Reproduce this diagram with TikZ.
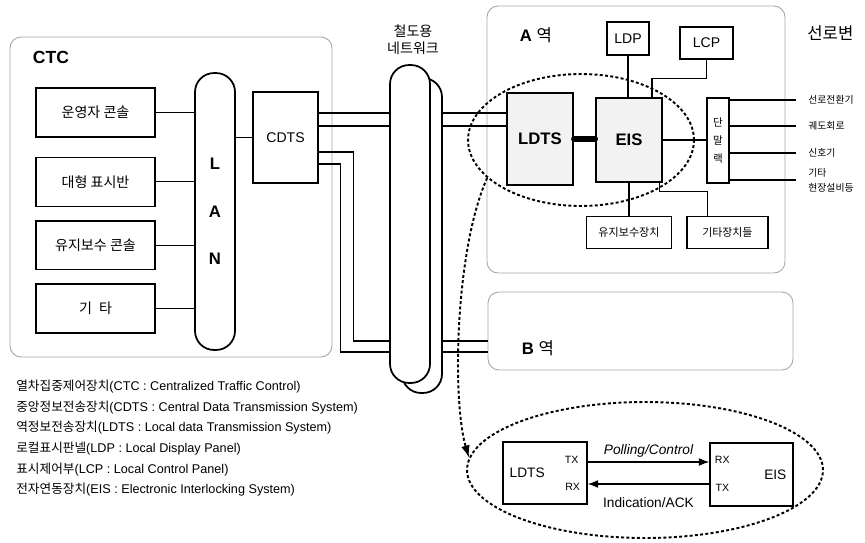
\documentclass[tikz,border=0pt]{standalone}
\usepackage{fontspec}
\setmainfont{Liberation Sans}
\newfontfamily\hangul{Noto Sans CJK KR}
\newcommand\ko[1]{{\hangul #1}}
\usetikzlibrary{calc,positioning,shapes.geometric,arrows.meta}

\begin{document}
\begin{tikzpicture}[
        x=0.02cm, y=-0.02cm,
        zone/.style={rectangle, draw=gray!70, line width=0.5pt, rounded corners=0.22cm, inner sep=0pt},
        box/.style={rectangle, draw, line width=0.8pt, fill=white, inner sep=0pt, align=center, font=\hangul\fontsize{8}{10}\selectfont},
        pill/.style={rectangle, draw, line width=1pt, fill=white, rounded corners=0.38cm, inner sep=0pt, minimum width=0.8cm},
        wire/.style={line width=0.6pt},
        arrow/.style={line width=0.6pt, -{Latex[length=6pt, width=4.5pt]}},
        ring/.style={ellipse, draw, line width=1.1pt, dash pattern=on 1.7pt off 1.3pt, inner sep=0pt},
        port/.style={inner sep=0pt, font=\fontsize{6}{7}\selectfont},
        sig/.style={anchor=west, inner xsep=7pt, inner ysep=0pt, align=left, font=\hangul\fontsize{5.6}{8.5}\selectfont}
    ]
        \useasboundingbox (0,0) rectangle (865,542);

        % Zones
        \node (ctczone) [zone, minimum width=6.44cm, minimum height=6.4cm] at (171,197) {};
        \node (azone) [zone, minimum width=5.96cm, minimum height=5.34cm] at (636,139.5) {};
        \node (bzone) [zone, minimum width=6.1cm, minimum height=1.56cm] at (640.5,331) {};
        \node (ctclabel) [font=\bfseries\fontsize{10}{12}\selectfont] at (51,57) {CTC};
        \node (alabel) [font=\fontsize{9.5}{11}\selectfont] at (536,35) {\textbf{A} \ko{역}};
        \node (blabel) [font=\fontsize{9.5}{11}\selectfont] at (538,348) {\textbf{B} \ko{역}};

        % CTC side
        \node (oper) [box, minimum width=2.38cm, minimum height=0.98cm] at (95.5,112.5) {운영자 콘솔};
        \node (board) [box, minimum width=2.38cm, minimum height=0.98cm, below=0.38cm of oper] {대형 표시반};
        \node (mcons) [box, minimum width=2.38cm, minimum height=0.98cm, below=0.26cm of board] {유지보수 콘솔};
        \node (other) [box, minimum width=2.38cm, minimum height=0.98cm, below=0.26cm of mcons] {기\enspace 타};
        \node (lan) [pill, minimum height=5.54cm, align=center, font=\bfseries\fontsize{9.5}{27}\selectfont] at (215,211.5) {L\\A\\N};
        \node (cdts) [box, minimum width=1.3cm, minimum height=1.82cm, font=\fontsize{8}{10}\selectfont] at (285.5,137.5) {CDTS};

        \foreach \b in {oper,board,mcons,other}
            \draw [wire] (\b.east) -- (\b.east -| lan.west);
        \draw [wire] (cdts.west -| lan.east) -- (cdts.west);

        % Railway network
        \node (netb) [pill, minimum height=6.3cm] at (422,235.5) {};
        \node (netf) [pill, minimum height=6.36cm] at (410,224) {};
        \node (netlabel) [align=center, font=\hangul\fontsize{8}{9.6}\selectfont] at (413,40) {철도용\\네트워크};

        % A station
        \node (ldts) [box, fill=gray!10, minimum width=1.32cm, minimum height=1.84cm, font=\bfseries\fontsize{9.5}{11}\selectfont] at (540,139) {LDTS};
        \node (eis) [box, fill=gray!10, minimum width=1.32cm, minimum height=1.68cm, font=\bfseries\fontsize{9.5}{11}\selectfont] at (629,140) {EIS};
        \node (ldp) [box, minimum width=0.84cm, minimum height=0.66cm, font=\fontsize{8}{10}\selectfont] at (628,38.5) {LDP};
        \node (lcp) [box, minimum width=1.06cm, minimum height=0.64cm, font=\fontsize{8}{10}\selectfont] at (706.5,43) {LCP};
        \node (rack) [box, minimum width=0.44cm, minimum height=1.7cm, font=\hangul\fontsize{6}{10.5}\selectfont] at (718,140.5) {단\\말\\랙};
        \node (maint) [box, minimum width=1.7cm, minimum height=0.64cm, font=\hangul\fontsize{6.3}{8}\selectfont, below=0.66cm of eis] {유지보수장치};
        \node (devs) [box, minimum width=1.62cm, minimum height=0.64cm, font=\hangul\fontsize{6.2}{8}\selectfont, right=0.28cm of maint] {기타장치들};
        \node (linelabel) [anchor=west, inner sep=0pt, font=\hangul\fontsize{9.5}{11}\selectfont] at (807,33) {선로변};

        % Network links
        \coordinate (u1) at ($(cdts.east)+(0,-24.5)$);
        \coordinate (u2) at ($(cdts.east)+(0,-11.5)$);
        \coordinate (d1) at ($(cdts.east)+(0,14.5)$);
        \coordinate (d2) at ($(cdts.east)+(0,26.5)$);
        \coordinate (b1) at ($(bzone.west)+(0,10)$);
        \coordinate (b2) at ($(bzone.west)+(0,21)$);
        \draw [wire] (u1) -- (u1 -| netf.west);
        \draw [wire] (u2) -- (u2 -| netf.west);
        \draw [wire] (u1 -| netb.east) -- (u1 -| ldts.west);
        \draw [wire] (u2 -| netb.east) -- (u2 -| ldts.west);
        \draw [wire] (d1) -- ++(35,0) |- (b1 -| netf.west);
        \draw [wire] (d2) -- ++(22,0) |- (b2 -| netf.west);
        \draw [wire] (b1 -| netb.east) -- (b1);
        \draw [wire] (b2 -| netb.east) -- (b2);

        % Station links
        \draw [line width=3pt, line cap=round] (ldts.east) -- (ldts.east -| eis.west);
        \draw [wire] (ldp.south) -- (ldp.south |- eis.north);
        \draw [wire] (lcp.south) -- ++(0,19) -| ($(eis.north)+(23,0)$);
        \draw [wire] (eis.east) -- (eis.east -| rack.west);
        \draw [wire] (maint.north |- eis.south) -- (maint.north);
        \draw [wire] ($(eis.south east)+(-3,0)$) -- ++(0,9) -| ($(devs.north)+(-20,0)$);

        \foreach \n/\dy/\t in {1/-40.5/선로전환기, 2/-14.5/궤도회로, 3/12.5/신호기, 4/39.5/{기타\\현장설비등}} {
            \coordinate (r\n) at ($(rack.east)+(0,\dy)$);
            \node (sig\n) [sig] at ($(r\n)+(66,0)$) {\t};
            \draw [wire] (r\n) -- (sig\n.west);
        }

        % Detail of LDTS - EIS
        \node (ringa) [ring, minimum width=4.52cm, minimum height=2.64cm] at (581,140) {};
        \node (ringb) [ring, minimum width=7.12cm, minimum height=2.72cm] at (645,470) {};
        \draw [line width=1.1pt, dash pattern=on 1.7pt off 1.3pt, -{Latex[length=7pt, width=5pt]}] (ringa.202) .. controls (455,250) and (452,400) .. (ringb.176);

        \node (ldtsb) [box, minimum width=1.68cm, minimum height=1.24cm] at (545,473) {};
        \node (eisb) [box, minimum width=1.66cm, minimum height=1.26cm] at (751.5,474.5) {};
        \node (ldtsbtext) [anchor=west, inner sep=0pt, font=\fontsize{7.8}{9}\selectfont] at ($(ldtsb.west)+(7,0)$) {LDTS};
        \node (eisbtext) [anchor=east, inner sep=0pt, font=\fontsize{7.8}{9}\selectfont] at ($(eisb.east)+(-7,0)$) {EIS};
        \node (ldtstx) [port] at ($(ldtsb.east)+(-16,-13)$) {TX};
        \node (ldtsrx) [port] at ($(ldtsb.east)+(-15,14)$) {RX};
        \node (eisrx) [port] at ($(eisb.west)+(13,-14.5)$) {RX};
        \node (eistx) [port] at ($(eisb.west)+(13,13.5)$) {TX};

        \coordinate (p1) at ($(ldtsb.east)+(0,-11)$);
        \coordinate (p2) at ($(eisb.west)+(0,9.5)$);
        \draw [arrow] (p1) -- (p1 -| eisb.west) node (poll) [midway, above=-1pt, font=\itshape\fontsize{7.8}{9}\selectfont] {Polling/Control};
        \draw [arrow] (p2) -- (p2 -| ldtsb.east) node (ack) [midway, below=4pt, font=\fontsize{7.8}{9}\selectfont] {Indication/ACK};

        % Legend
        \node (legend) [anchor=north west, align=left, inner sep=0pt, font=\fontsize{7.2}{11.7}\selectfont] at (16,380) {%
            \ko{열차집중제어장치}(CTC : Centralized Traffic Control)\\
            \ko{중앙정보전송장치}(CDTS : Central Data Transmission System)\\
            \ko{역정보전송장치}(LDTS : Local data Transmission System)\\
            \ko{로컬표시판넬}(LDP : Local Display Panel)\\
            \ko{표시제어부}(LCP : Local Control Panel)\\
            \ko{전자연동장치}(EIS : Electronic Interlocking System)};
    \end{tikzpicture}
\end{document}
